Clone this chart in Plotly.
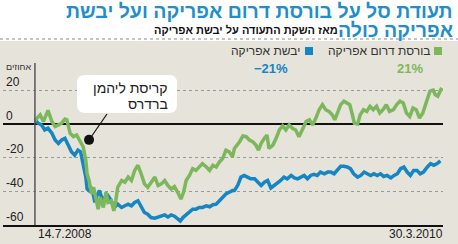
import plotly.graph_objects as go
import pandas as pd

START = "2008-07-14"
END = "2010-03-30"

# days since 14.7.2008 and % change
green_days = [0, 8, 13, 18, 20, 26, 31, 36, 41, 46, 49, 54, 59, 64, 69, 74, 78, 80, 83, 87,
              90, 94, 97, 100, 105, 109, 112, 117, 121, 124, 127, 133, 138, 143, 148, 153, 158, 163, 168, 173,
              178, 184, 189, 194, 199, 204, 209, 214, 219, 224, 228, 232, 237, 242, 247, 252, 257, 263, 268, 273,
              278, 283, 288, 293, 298, 303,
              306, 314, 319, 324, 329, 334, 339, 343, 347, 352, 356, 359, 365, 370, 375, 380, 385, 390, 395, 400,
              405, 410, 416, 421, 426, 431, 436, 441, 446, 451, 456, 460, 464, 469, 474, 479, 483, 487, 490, 495,
              499, 504, 509, 514, 519, 524, 529, 534, 539, 544, 550, 555, 560, 565, 570, 575, 580, 585, 590, 595,
              601, 606, 611, 614, 618, 622, 624]
green_vals = [2.0, 5.4, 1.4, 6.4, 8.0, 1.4, -1.6, -0.6, 0.4, 2.8, 2.4, -5.6, -7.6, -6.6, -10.6, -13.6, -21.6, -29.6, -33.6, -41.6,
              -37.6, -45.6, -50.6, -43.6, -49.6, -40.6, -46.6, -45.6, -51.6, -45.6, -37.6, -33.6, -34.6, -31.6, -33.6, -27.6, -24.6, -29.6, -35.6, -37.6,
              -34.6, -31.6, -36.6, -35.6, -33.6, -36.6, -38.6, -37.2, -40.6, -44.6, -40.6, -33.6, -30.6, -26.6, -27.6, -25.6, -23.6, -25.6, -27.6, -24.6,
              -25.6, -22.6, -20.6, -15.6, -16.6, -19.6,
              -14.6, -10.6, -7.2, -7.6, -9.6, -10.6, -12.6, -15.6, -11.6, -8.6, -6.6, -14.6, -12.6, -8.6, -3.6, -1.2, -3.6, -0.6, -2.6, -3.6,
              -7.6, -3.6, 1.4, 2.4, -0.6, 3.4, 8.4, 11.4, 8.4, 7.4, 5.4, 2.4, 6.4, 11.4, 13.4, 12.4, 11.4, 5.4, 0.4, 0.0,
              5.4, 8.4, 7.4, 10.4, 8.4, 10.4, 6.4, 8.4, 11.4, 7.4, 8.4, 11.4, 13.4, 12.4, 6.4, 4.4, 9.4, 8.4, 3.4, 6.4,
              14.4, 19.4, 20.0, 17.4, 16.4, 19.4, 21.4]

blue_days = [0, 5, 10, 15, 20, 26, 31, 36, 41, 46, 51, 56, 61, 66, 70, 73, 75, 78, 80, 83,
             87, 89, 92, 94, 99, 103, 107, 112, 117, 122, 127, 133, 138, 143, 148, 153, 158, 163, 168, 173,
             178, 184, 189, 194, 199, 204, 209, 214, 219, 223, 227, 232, 237, 242, 247, 252, 257, 263, 268, 273,
             278, 283, 288, 293, 298, 303,
             306, 311, 316, 321, 326, 331, 337, 342, 347, 352, 357, 362, 367, 372, 377, 382, 387, 393, 398, 403,
             408, 413, 418, 423, 428, 433, 438, 444, 449, 454, 459, 464, 469, 474, 479, 484, 489, 495, 500, 505,
             510, 515, 520, 525, 530, 535, 540, 546, 551, 556, 561, 566, 571, 576, 581, 586, 591, 596, 602, 607,
             612, 617, 622]
blue_vals = [2.4, 0.4, -0.6, -3.6, -2.6, -5.6, -9.6, -11.6, -9.6, -8.6, -12.6, -16.6, -18.6, -15.6, -16.6, -21.6, -25.6, -31.6, -38.6, -39.6,
             -37.6, -41.6, -46.6, -43.6, -39.6, -44.6, -43.6, -42.6, -45.6, -49.6, -47.6, -49.6, -48.6, -47.6, -48.6, -46.6, -45.6, -49.6, -52.6, -53.6,
             -55.6, -56.0, -55.2, -54.6, -54.0, -55.2, -54.0, -54.8, -56.6, -57.6, -55.6, -54.0, -52.6, -50.6, -50.6, -49.6, -49.6, -48.6, -49.2, -48.0,
             -47.6, -45.6, -43.6, -41.6, -40.6, -39.6,
             -39.6, -36.6, -31.6, -30.6, -31.6, -32.6, -32.6, -34.6, -36.6, -34.6, -33.6, -38.0, -36.6, -35.6, -33.6, -31.6, -32.6, -30.6, -32.0, -32.6,
             -31.6, -30.6, -32.6, -30.6, -30.0, -30.6, -28.6, -29.6, -28.6, -28.6, -29.6, -27.6, -25.2, -25.2, -25.6, -26.6, -29.6, -31.6, -30.6, -28.6,
             -29.6, -30.6, -29.6, -30.6, -29.6, -31.2, -30.6, -32.0, -30.6, -29.6, -26.6, -25.6, -28.6, -30.6, -27.6, -27.6, -29.6, -28.6, -25.6, -23.6,
             -24.6, -23.6, -22.0]

y_ticks = [-60, -40, -20, 0, 20]
y_tick_labels = ["-60", "-40", "-20", "0", "20"]

series_names = ["בורסת דרום אפריקה", "יבשת אפריקה"]
series_changes = ["21%", "\u221221%"]
lehman_day = 83
lehman_val = -9.5

GREEN = "#7db75c"
BLUE = "#1585c4"
TITLE_BLUE = "#1f8ecb"
BEIGE = "#e6e3da"
HEB = "Liberation Sans, DejaVu Sans, sans-serif"

W, H = 458, 244
L, R, T, B = 3, 15, 63, 19
PW, PH = W - L - R, H - T - B


def px(x):
    return (x - L) / PW


def py(y):
    return (H - B - y) / PH


def to_dates(days):
    return pd.to_datetime(START) + pd.to_timedelta(days, unit="D")


start = pd.to_datetime(START)
end = pd.to_datetime(END)

fig = go.Figure()
fig.add_trace(go.Scatter(x=to_dates(blue_days), y=blue_vals, mode="lines",
                         line=dict(color=BLUE, width=3.5), name=series_names[1], hoverinfo="skip"))
fig.add_trace(go.Scatter(x=to_dates(green_days), y=green_vals, mode="lines",
                         line=dict(color=GREEN, width=3.5), name=series_names[0], hoverinfo="skip"))
fig.add_trace(go.Scatter(x=to_dates([lehman_day]), y=[lehman_val], mode="markers",
                         marker=dict(color="#111", size=10), hoverinfo="skip", cliponaxis=False))

shapes = []
# beige panel
shapes.append(dict(type="rect", xref="paper", yref="paper", x0=px(0), x1=px(W), y0=py(H), y1=py(41),
                   fillcolor=BEIGE, line=dict(width=0), layer="below"))
# dotted separator
shapes.append(dict(type="line", xref="paper", yref="paper", x0=px(0), x1=px(W), y0=py(39), y1=py(39),
                   line=dict(color="#8a8a8a", width=1.2, dash="dot")))
# vertical axis at start date
shapes.append(dict(type="line", xref="x", yref="paper", x0=start, x1=start, y0=0, y1=1,
                   line=dict(color="#555", width=1.5)))
# legend squares
shapes.append(dict(type="rect", xref="paper", yref="paper", x0=px(434), x1=px(442), y0=py(55), y1=py(47),
                   fillcolor=GREEN, line=dict(width=0)))
shapes.append(dict(type="rect", xref="paper", yref="paper", x0=px(305), x1=px(313), y0=py(55), y1=py(47),
                   fillcolor=BLUE, line=dict(width=0)))
# callout box (rounded)
bx0, bx1, by0, by1, r = 77, 177, 75, 113, 8
pts = [("M", bx0 + r, by0), ("L", bx1 - r, by0), ("Q", bx1, by0, bx1, by0 + r), ("L", bx1, by1 - r),
       ("Q", bx1, by1, bx1 - r, by1), ("L", bx0 + r, by1), ("Q", bx0, by1, bx0, by1 - r), ("L", bx0, by0 + r),
       ("Q", bx0, by0, bx0 + r, by0)]
path = ""
for p in pts:
    cmd = p[0]
    coords = p[1:]
    s = " ".join(f"{px(coords[i]):.5f},{py(coords[i + 1]):.5f}" for i in range(0, len(coords), 2))
    path += f"{cmd} {s} "
path += "Z"
shapes.append(dict(type="path", xref="paper", yref="paper", path=path, fillcolor="white", line=dict(width=0)))
# pointer line
shapes.append(dict(type="line", xref="paper", yref="paper", x0=px(89), y0=py(140), x1=px(107), y1=py(114),
                   line=dict(color="#111", width=1.2)))

ann = []


def add_text(text, x, y, size, color, xanchor="right", bold=False, family=HEB):
    ann.append(dict(text=f"<b>{text}</b>" if bold else text, xref="paper", yref="paper", x=px(x), y=py(y),
                    xanchor=xanchor, yanchor="middle", showarrow=False,
                    font=dict(family=family, size=size, color=color)))


add_text("תעודת סל על בורסת דרום אפריקה ועל יבשת", 455, 11, 19.5, TITLE_BLUE, bold=True)
add_text("אפריקה כולה", 455, 30, 19.5, TITLE_BLUE, bold=True)
add_text("מאז השקת התעודה על יבשת אפריקה", 340, 30, 11, "#111", bold=True)
add_text(series_names[0], 432, 51, 12, "#333")
add_text(series_names[1], 302, 51, 12, "#333")
add_text(series_changes[0], 410, 68, 13, GREEN, xanchor="center", bold=True)
add_text(series_changes[1], 271, 68, 13, BLUE, xanchor="center", bold=True)
add_text("אחוזים", 4, 67, 9, "#333", xanchor="left")
add_text("קריסת ליהמן", 170, 88, 14, "#222")
add_text("ברדרס", 170, 104, 14, "#222")
add_text("14.7.2008", 36, 234, 12, "#222", xanchor="left")
add_text("30.3.2010", 445, 234, 12, "#222", xanchor="right")

fig.update_layout(
    width=W, height=H, margin=dict(l=L, r=R, t=T, b=B, pad=0),
    paper_bgcolor="white", plot_bgcolor="rgba(0,0,0,0)",
    showlegend=False, shapes=shapes, annotations=ann,
    xaxis=dict(range=[start - pd.Timedelta(days=49), end + pd.Timedelta(days=2)], showgrid=False,
               showticklabels=False, ticks="", zeroline=False, showline=True, linecolor="#111", linewidth=1.5,
               fixedrange=True),
    yaxis=dict(range=[-60, 36.1], tickvals=y_ticks, ticktext=y_tick_labels, showgrid=True,
               gridcolor="#9a9a9a", griddash="dot", gridwidth=1, zeroline=True, zerolinecolor="#111",
               zerolinewidth=1.5, showline=False, ticks="", ticklabelposition="inside top",
               tickfont=dict(family=HEB, size=12, color="#222"), fixedrange=True),
)

fig.write_html("out.html")
